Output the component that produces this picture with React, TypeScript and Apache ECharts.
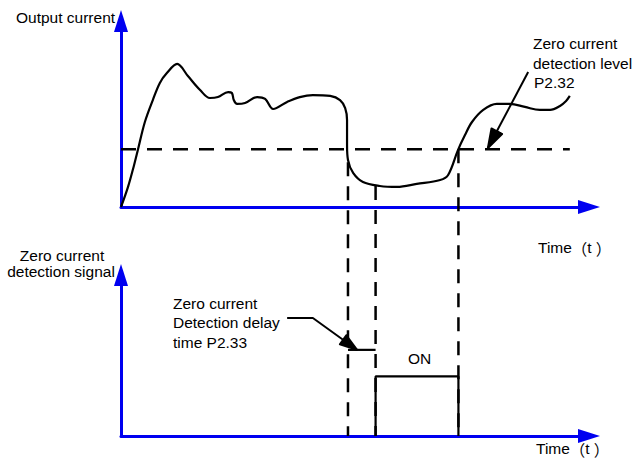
import React, { useEffect, useRef } from "react";
import * as echarts from "echarts";

// Output current curve (time in % of axis length, current in % of axis height)
const curveTime = [0, 1.5, 2.8, 3.6, 5.1, 6.8, 8.3, 9.8, 12.0, 14.3, 16.9, 19.0, 20.7, 22.9, 23.7, 24.1, 24.8, 26.5, 29.1, 30.8, 32.5, 35.5, 38.2, 41.0, 44.7, 46.8, 47.9, 48.3, 48.3, 48.5, 49.6, 51.7, 55.3, 59.0, 63.2, 68.2, 69.9, 72.0, 73.5, 75.0, 77.4, 80.3, 83.1, 86.3, 89.5, 91.7, 93.8, 95.1, 95.9];
const curveCurrent = [0, 10.8, 22.6, 30.6, 45.7, 57.5, 66.7, 72.0, 76.9, 70.4, 62.9, 58.6, 59.1, 61.8, 61.3, 57.5, 55.4, 55.9, 59.1, 58.1, 52.7, 56.5, 59.1, 60.2, 59.7, 57.5, 53.2, 46.8, 33.3, 25.3, 18.3, 13.4, 11.3, 10.8, 12.4, 14.5, 17.2, 30.6, 38.7, 45.7, 52.2, 55.4, 55.4, 53.8, 52.2, 52.2, 54.3, 57.0, 59.7];

// Zero current detection level P2.32
const levelValue = 31;
const levelEndTime = 95.9;

// Guide lines: time and the current where each starts
const guideTimes = [48.5, 54.4, 72.1];
const guideStartCurrent = [24, 11.3, 31];

// Detection signal
const delayStart = 48.5;
const delayEnd = 54.4;
const delayLevel = 53.5;
const onStart = 54.4;
const onEnd = 72.1;
const onLevel = 37;

// Leader lines (time, value) – last point is the arrow tip
const leaderTopTime = [87.0, 78.4];
const leaderTopValue = [72.6, 31.7];
const leaderBottomTime = [35.5, 41.0, 50.4];
const leaderBottomValue = [73.3, 73.3, 53.6];

// Layout
const W = 636;
const H = 460;
const LEFT = 121;
const RIGHT = 47;
const TOP1 = 21;
const H1 = 186;
const TOP2 = 275;
const H2 = 161;
const PX_PER_V1 = H1 / 100;
// value (in top grid units) matching the bottom axis
const bottomInTop = -((TOP2 + H2) - (TOP1 + H1)) / PX_PER_V1;

const BLUE = "#0000f0";
const FONT = "Arial, Liberation Sans, sans-serif";
const CJK = "Noto Sans CJK SC, sans-serif";
const FS = 15.5;

function axisPair(gridIndex: number) {
  return {
    gridIndex,
    type: "value" as const,
    min: 0,
    max: 100,
    axisLine: {
      show: true,
      onZero: true,
      symbol: ["none", "triangle"],
      symbolSize: [14, 22],
      lineStyle: { color: BLUE, width: 3 },
    },
    axisTick: { show: false },
    axisLabel: { show: false },
    splitLine: { show: false },
  };
}

function txt(text: string, x: number, y: number, align: string = "left") {
  return {
    type: "text",
    x,
    y,
    silent: true,
    style: {
      text,
      font: `${FS}px ${FONT}`,
      fill: "#000",
      align,
      verticalAlign: "middle",
    },
  };
}

function timeLabel(x: number, y: number) {
  return {
    type: "text",
    x,
    y,
    silent: true,
    style: {
      text: "{a|Time}{b|（}{a|t}{c|）}",
      fill: "#000",
      align: "left",
      verticalAlign: "middle",
      rich: {
        a: { fontFamily: FONT, fontSize: FS, lineHeight: 16, fill: "#000" },
        b: { fontFamily: CJK, fontSize: FS, lineHeight: 16, fill: "#000" },
        c: { fontFamily: CJK, fontSize: FS, lineHeight: 16, fill: "#000", padding: [0, 0, 0, 4] },
      },
    },
  };
}

export default function App() {
  const ref = useRef<HTMLDivElement>(null);

  useEffect(() => {
    if (!ref.current) return;
    const chart = echarts.init(ref.current, undefined, { renderer: "svg" });

    const dashed = { color: "#000", width: 2.5, type: [14, 10] as any };
    const guideSeries = guideTimes.map((t, i) => ({
      type: "line",
      xAxisIndex: 0,
      yAxisIndex: 0,
      clip: false,
      symbol: "none",
      silent: true,
      lineStyle: dashed,
      data: [
        [t, guideStartCurrent[i]],
        [t, bottomInTop],
      ],
    }));

    const solid = { color: "#000", width: 2.2 };

    const texts: any[] = [
      txt("Output current", 16, 17.5),
      txt("Zero current", 533, 43.5),
      txt("detection level", 533, 63),
      txt("P2.32", 534, 82.5),
      timeLabel(538, 247.5),
      txt("Zero current", 62, 255, "center"),
      txt("detection signal", 61, 271.5, "center"),
      txt("Zero current", 173, 303),
      txt("Detection delay", 173, 322.5),
      txt("time P2.33", 173, 342),
      txt("ON", 419.5, 358, "center"),
      timeLabel(536, 448.5),
    ];

    const series: any[] = [
      {
        type: "line",
        xAxisIndex: 0,
        yAxisIndex: 0,
        smooth: 0.35,
        symbol: "none",
        silent: true,
        lineStyle: solid,
        data: curveTime.map((t, i) => [t, curveCurrent[i]]),
      },
      {
        type: "line",
        xAxisIndex: 0,
        yAxisIndex: 0,
        symbol: "none",
        silent: true,
        lineStyle: { color: "#000", width: 2.5, type: [15, 11] },
        data: [
          [0, levelValue],
          [levelEndTime, levelValue],
        ],
      },
      ...guideSeries,
      {
        type: "line",
        xAxisIndex: 1,
        yAxisIndex: 1,
        symbol: "none",
        silent: true,
        lineStyle: solid,
        data: [
          [onStart, 0],
          [onStart, onLevel],
          [onEnd, onLevel],
          [onEnd, 0],
        ],
      },
      {
        type: "line",
        xAxisIndex: 1,
        yAxisIndex: 1,
        symbol: "none",
        silent: true,
        lineStyle: solid,
        data: [
          [delayStart, delayLevel],
          [delayEnd, delayLevel],
        ],
      },
      // leader lines
      {
        type: "line",
        xAxisIndex: 0,
        yAxisIndex: 0,
        symbol: "none",
        silent: true,
        clip: false,
        lineStyle: { color: "#000", width: 2 },
        data: leaderTopTime.map((t, i) => [t, leaderTopValue[i]]),
      },
      {
        type: "line",
        xAxisIndex: 1,
        yAxisIndex: 1,
        symbol: "none",
        silent: true,
        clip: false,
        lineStyle: { color: "#000", width: 2 },
        data: leaderBottomTime.map((t, i) => [t, leaderBottomValue[i]]),
      },
    ];

    const option: any = {
      animation: false,
      backgroundColor: "#fff",
      grid: [
        { left: LEFT, right: RIGHT, top: TOP1, height: H1 },
        { left: LEFT, right: RIGHT, top: TOP2, height: H2 },
      ],
      xAxis: [axisPair(0), axisPair(1)],
      yAxis: [axisPair(0), axisPair(1)],
      series,
      graphic: texts,
    };

    chart.setOption(option);

    // Arrowheads: filled by a fan of strokes, placed through the axes' scales
    const heads = [
      { gridIndex: 0, times: leaderTopTime, values: leaderTopValue, len: 19, width: 12 },
      { gridIndex: 1, times: leaderBottomTime, values: leaderBottomValue, len: 17, width: 11 },
    ];
    const headSeries = heads.map((h) => {
      const n = h.times.length;
      const finder: any = { gridIndex: h.gridIndex };
      const tip = chart.convertToPixel(finder, [h.times[n - 1], h.values[n - 1]]) as number[];
      const from = chart.convertToPixel(finder, [h.times[n - 2], h.values[n - 2]]) as number[];
      const dx = tip[0] - from[0];
      const dy = tip[1] - from[1];
      const l = Math.sqrt(dx * dx + dy * dy) || 1;
      const ux = dx / l;
      const uy = dy / l;
      const bx = tip[0] - ux * h.len;
      const by = tip[1] - uy * h.len;
      const px = -uy * (h.width / 2);
      const py = ux * (h.width / 2);
      const pts: number[][] = [];
      const N = 12;
      for (let k = 0; k <= N; k++) {
        const s = -1 + (2 * k) / N;
        pts.push([tip[0], tip[1]]);
        pts.push([bx + px * s, by + py * s]);
      }
      pts.push([bx - px, by - py]);
      const data = pts.map((p) => chart.convertFromPixel(finder, p) as number[]);
      return {
        type: "line",
        xAxisIndex: h.gridIndex,
        yAxisIndex: h.gridIndex,
        symbol: "none",
        silent: true,
        clip: false,
        lineStyle: { color: "#000", width: 2, join: "round", cap: "round" },
        data,
      };
    });
    chart.setOption({ series: [...series, ...headSeries] });

    return () => chart.dispose();
  }, []);

  return (
    <div
      ref={ref}
      style={{ position: "fixed", left: 0, top: 0, width: W, height: H, background: "#fff" }}
    />
  );
}
